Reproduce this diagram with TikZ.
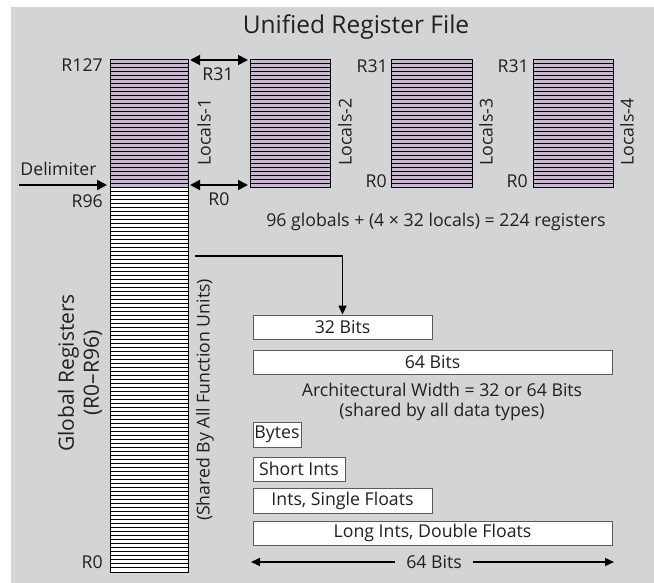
\documentclass[tikz,border=0pt]{standalone}
\usepackage{fontspec}
\setmainfont{Open Sans}
\usetikzlibrary{arrows.meta}
\definecolor{bgc}{RGB}{211,212,214}
\definecolor{purp}{RGB}{201,182,209}
\definecolor{txt}{RGB}{35,31,32}
\definecolor{boxline}{RGB}{90,90,90}
\tikzset{
  lbl/.style={text=txt, font=\fontsize{17.7}{20}\selectfont, inner sep=0pt},
  regcol/.style={draw=black, line width=0.7pt, inner sep=0pt},
  bitbox/.style={draw=boxline, line width=0.8pt, fill=white, inner sep=0pt, minimum height=24pt, text=txt, font=\fontsize{17.7}{20}\selectfont},
  bigarrow/.style={line width=1.8pt, -{Triangle[length=10pt,width=10pt]}},
  dblarrow/.style={line width=1.8pt, {Triangle[length=10pt,width=10pt]}-{Triangle[length=10pt,width=10pt]}},
  thinarrow/.style={line width=1.5pt, -{Triangle[length=9pt,width=8pt]}}
}
\begin{document}
\begin{tikzpicture}[x=1pt,y=-1pt]
\useasboundingbox (0,0) rectangle (654,583);
\fill[bgc] (11,7) rectangle (654,583);

% title
\node[lbl, font=\fontsize{24.5}{28}\selectfont] (title) at (356,27) {Unified Register File};

% register columns
\node[regcol, fill=purp, minimum width=78pt, minimum height=128pt] (loc1) at (149,123) {};
\node[regcol, fill=white, minimum width=78pt, minimum height=385pt] (glob) at (149,379.5) {};
\node[regcol, fill=purp, minimum width=80pt, minimum height=128pt] (loc2) at (290,123) {};
\node[regcol, fill=purp, minimum width=81pt, minimum height=128pt] (loc3) at (431.5,123) {};
\node[regcol, fill=purp, minimum width=80pt, minimum height=128pt] (loc4) at (573,123) {};

% stripes
\foreach \k in {1,...,127} {
  \draw[line width=0.7pt] (110,59+4*\k) -- (188,59+4*\k);
}
\foreach \xa/\xb in {250/330, 391/472, 533/613} {
  \foreach \k in {1,...,31} {
    \draw[line width=0.7pt] (\xa,59+4*\k) -- (\xb,59+4*\k);
  }
}
\draw[line width=0.8pt] (110,59) rectangle (188,572);
\draw[line width=0.8pt] (250,59) rectangle (330,187);
\draw[line width=0.8pt] (391,59) rectangle (472,187);
\draw[line width=0.8pt] (533,59) rectangle (613,187);

% labels on columns
\node[lbl, anchor=east] (r127) at (103,65) {R127};
\node[lbl, anchor=east] (r96) at (103,201) {R96};
\node[lbl, anchor=east] (r0g) at (103,562.5) {R0};
\node[lbl] (r31a) at (218,74) {R31};
\node[lbl] (r0a) at (219,199) {R0};
\node[lbl, anchor=east] (r31c) at (388,66) {R31};
\node[lbl, anchor=east] (r0c) at (387,181) {R0};
\node[lbl, anchor=east] (r31d) at (529,66) {R31};
\node[lbl, anchor=east] (r0d) at (528,181) {R0};

\node[lbl, rotate=90] (l1) at (204,132) {Locals-1};
\node[lbl, rotate=90] (l2) at (345,132) {Locals-2};
\node[lbl, rotate=90] (l3) at (486,132) {Locals-3};
\node[lbl, rotate=90] (l4) at (627,132) {Locals-4};

% arrows between local banks
\coordinate (ta) at (190,60);
\coordinate (tb) at (248,60);
\coordinate (ba) at (190,185);
\coordinate (bb) at (248,185);
\draw[dblarrow] (ta) -- (tb);
\draw[dblarrow] (ba) -- (bb);

% delimiter
\node[lbl] (delim) at (58.5,169) {Delimiter};
\coordinate (ds) at (19,185);
\coordinate (de) at (107,185);
\draw[bigarrow] (ds) -- (de);

% count
\node[lbl] (count) at (436,222) {96 globals + (4 × 32 locals) = 224 registers};

% global labels
\node[lbl, rotate=90, align=center, font=\fontsize{21}{25}\selectfont] (glab) at (80,373) {Global Registers\\(R0–R96)};
\node[lbl, rotate=90] (shared) at (205,400) {(Shared By All Function Units)};

% bit boxes
\node[bitbox, minimum width=179pt] (b32) at (342.5,327) {32 Bits};
\node[bitbox, minimum width=359pt] (b64) at (432.5,362) {64 Bits};
\node[lbl, align=center, font=\fontsize{17.7}{20}\selectfont] (arch) at (442,402) {Architectural Width = 32 or 64 Bits\\(shared by all data types)};
\node[bitbox, minimum width=48pt, minimum height=25pt] (bytes) at (277,434.5) {Bytes};
\node[bitbox, minimum width=92pt] (short) at (299,469) {Short Ints};
\node[bitbox, minimum width=179pt, minimum height=25pt] (ints) at (342.5,500.5) {Ints, Single Floats};
\node[bitbox, minimum width=359pt] (long) at (432.5,533) {Long Ints, Double Floats};

% connector global -> 32 bits
\coordinate (gs) at (195,256);
\draw[thinarrow] (gs) -| (b32.north);

% 64 bits width arrow
\node[lbl, inner xsep=11pt] (w64) at (434,562) {64 Bits};
\coordinate (wl) at (251,562);
\coordinate (wr) at (614,562);
\draw[thinarrow] (w64.west) -- (wl);
\draw[thinarrow] (w64.east) -- (wr);
\end{tikzpicture}
\end{document}
